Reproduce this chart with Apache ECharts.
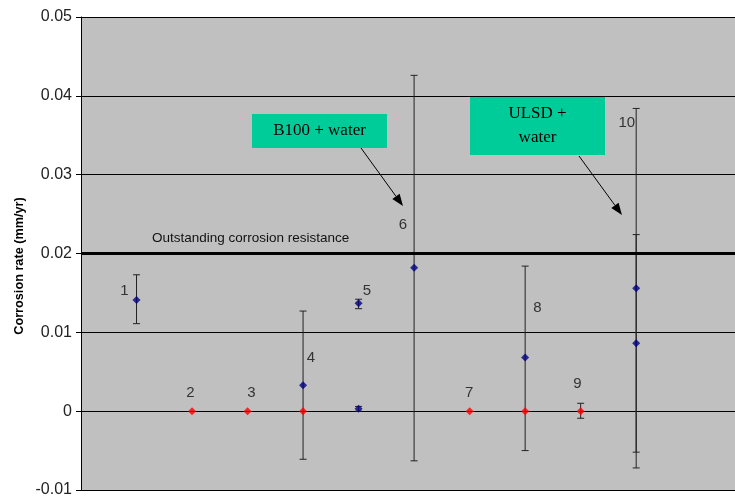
<!DOCTYPE html>
<html>
<head>
<meta charset="utf-8">
<script src="https://cdn.jsdelivr.net/npm/echarts@6/dist/echarts.min.js"></script>
<style>html,body{margin:0;padding:0;background:#fff}#c{width:735px;height:502px}</style>
</head>
<body>
<div id="c"></div>
<script>
// ---- data ----
const bluePoints = [[1,0.0141],[4,0.0033],[5,0.0137],[5,0.0003],[6,0.0182],[8,0.0068],[10,0.0156],[10,0.0086]];
const redPoints = [[2,0],[3,0],[4,0],[7,0],[8,0],[9,0]];
// [x, low, high]
const errorBars = [[1,0.0111,0.0173],[4,-0.0061,0.0127],[5,0.0130,0.0142],[5,0.0000,0.0006],[6,-0.0063,0.0426],[8,-0.0050,0.0184],[9,-0.0009,0.0010],[10,-0.0072,0.0384],[10,-0.0052,0.0224]];
const pointLabels = [["1",0.78,0.01530],["2",1.97,0.00228],["3",3.07,0.00228],["4",4.14,0.00680],["5",5.15,0.01530],["6",5.80,0.02363],["7",6.99,0.00228],["8",8.22,0.01310],["9",8.94,0.00343],["10",9.83,0.03660]];
const thresholdValue = 0.0201;
const thresholdText = "Outstanding corrosion resistance";
const yTicks = {min:-0.01, max:0.05, interval:0.01};
const yTitle = "Corrosion rate (mm/yr)";

const chart = echarts.init(document.getElementById('c'), null, {renderer:'canvas'});

function arrow(x1,y1,x2,y2){
  const dx=x2-x1, dy=y2-y1, L=Math.sqrt(dx*dx+dy*dy), ux=dx/L, uy=dy/L;
  const hl=12, hw=4.5;
  const bx=x2-ux*hl, by=y2-uy*hl;
  return [
    {type:'line', shape:{x1:x1,y1:y1,x2:bx,y2:by}, style:{stroke:'#000',lineWidth:1}, z:100},
    {type:'polygon', shape:{points:[[x2,y2],[bx-uy*hw,by+ux*hw],[bx+uy*hw,by-ux*hw]]}, style:{fill:'#000'}, z:100}
  ];
}

const option = {
  animation:false,
  backgroundColor:'#fff',
  grid:{left:81,right:0,top:17,bottom:12,show:true,backgroundColor:'#c0c0c0',borderWidth:0},
  xAxis:{type:'value',min:0,max:11.78,
    axisLine:{show:true,onZero:false,lineStyle:{color:'#000',width:1}},
    axisTick:{show:false},axisLabel:{show:false},splitLine:{show:false}},
  yAxis:{type:'value',min:yTicks.min,max:yTicks.max,interval:yTicks.interval,
    axisLine:{show:true,lineStyle:{color:'#000',width:1}},
    axisTick:{show:true,length:5,lineStyle:{color:'#000'}},
    axisLabel:{color:'#222',fontFamily:'Arial, Liberation Sans',fontSize:16,margin:9,
      formatter:v=>String(+v.toFixed(2))},
    splitLine:{show:true,lineStyle:{color:'#000',width:1}}},
  series:[
    {type:'custom', data:errorBars, z:3,
      renderItem:function(params,api){
        const x=api.value(0);
        const lo=api.coord([x,api.value(1)]);
        const hi=api.coord([x,api.value(2)]);
        const cw=3.5;
        const st={stroke:'#222',lineWidth:1};
        return {type:'group',children:[
          {type:'line',shape:{x1:lo[0],y1:lo[1],x2:hi[0],y2:hi[1]},style:st},
          {type:'line',shape:{x1:lo[0]-cw,y1:lo[1],x2:lo[0]+cw,y2:lo[1]},style:st},
          {type:'line',shape:{x1:hi[0]-cw,y1:hi[1],x2:hi[0]+cw,y2:hi[1]},style:st}
        ]};
      }},
    {type:'scatter', data:bluePoints, symbol:'diamond', symbolSize:8, z:5,
      itemStyle:{color:'#000080'},
      markLine:{silent:true,symbol:['none','none'],
        label:{show:false},
        lineStyle:{color:'#000',width:3,type:'solid'},
        data:[{yAxis:thresholdValue}]}},
    {type:'scatter', data:redPoints, symbol:'diamond', symbolSize:8, z:6,
      itemStyle:{color:'#ff0000'}},
    {type:'custom', data:pointLabels.map(d=>[d[1],d[2],d[0]]), z:7,
      renderItem:function(params,api){
        const p=api.coord([api.value(0),api.value(1)]);
        return {type:'text',style:{text:pointLabels[params.dataIndex][0],x:p[0],y:p[1],
          align:'center',verticalAlign:'middle',fill:'#333',fontSize:15,fontFamily:'Arial, Liberation Sans'}};
      }}
  ],
  graphic:[
    {type:'text',left:152,top:231,z:100,style:{text:thresholdText,fill:'#111',fontSize:13.5,fontFamily:'Arial, Liberation Sans'}},
    {type:'text',x:19,y:266,rotation:Math.PI/2,z:100,
      style:{text:yTitle,fill:'#000',fontSize:12.7,fontWeight:'bold',fontFamily:'Arial, Liberation Sans',align:'center',verticalAlign:'middle'}},
    {type:'rect',shape:{x:252,y:114,width:135,height:34},style:{fill:'#00cc99'},z:90},
    {type:'text',x:319.5,y:131,z:100,style:{text:'B100 + water',fill:'#000',fontSize:17,fontFamily:'Liberation Serif, Times New Roman, serif',align:'center',verticalAlign:'middle'}},
    {type:'rect',shape:{x:470,y:97,width:135,height:58},style:{fill:'#00cc99'},z:90},
    {type:'text',x:537.5,y:126,z:100,style:{text:'ULSD +\nwater',lineHeight:24,fill:'#000',fontSize:17,fontFamily:'Liberation Serif, Times New Roman, serif',align:'center',verticalAlign:'middle'}},
    ...arrow(361,148,403,206),
    ...arrow(579,156,622,215)
  ]
};
chart.setOption(option);
</script>
</body>
</html>
